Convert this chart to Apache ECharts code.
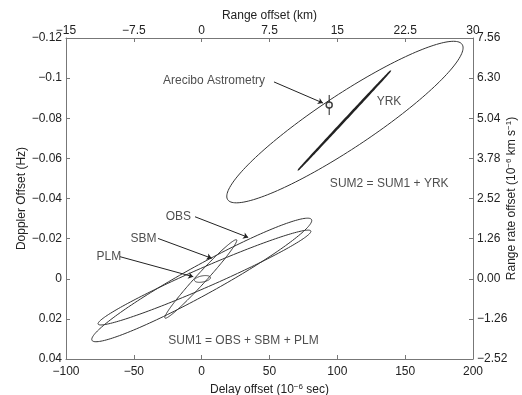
<!DOCTYPE html>
<html>
<head>
<meta charset="utf-8">
<script src="https://cdn.jsdelivr.net/npm/echarts@6/dist/echarts.min.js"></script>
<style>
  html, body { margin: 0; padding: 0; background: #fff; }
  #chart { width: 522px; height: 395px; }
</style>
</head>
<body>
<div id="chart"></div>
<script>
// error ellipses: centre, semi-major vector, semi-minor vector (data units)
var ellipseNames = ['SUM2', 'YRK', 'SUM1', 'OBS', 'SBM', 'PLM'];
var ellipseCenters = [[105.6, -0.0781], [105.2, -0.0789], [0.07, 0.0006], [2.06, -0.0006], [-0.65, 0.0001], [0.6, 0.0001]];
var ellipseMajor = [[86.4, -0.0387], [33.75, -0.0245], [80.9, -0.0301], [78.4, -0.0232], [26.4, -0.0195], [5.9, -0.00075]];
var ellipseMinor = [[10.9, 0.0111], [0.3, 0.0002], [5.25, 0.0065], [2.9, 0.0045], [2.72, 0.0017], [0.44, 0.0015]];
var ellipseWidths = [1, 1.4, 1, 1, 1, 1];

// Arecibo astrometry point with doppler error bar
var arecibo = [94, -0.0866];
var areciboErr = 0.005;

// annotation labels and arrows
var labelTexts = ['Arecibo Astrometry', 'YRK', 'SUM2 = SUM1 + YRK', 'OBS', 'SBM', 'PLM', 'SUM1 = OBS + SBM + PLM'];
var labelPos = [[-28.5, -0.0987], [129, -0.0882], [94.5, -0.0476], [-26.5, -0.0308], [-52.5, -0.0200], [-77.5, -0.0110], [-24.6, 0.0311]];
var arrows = [
  [[53.3, -0.0981], [89.4, -0.0876]],
  [[-4.9, -0.0309], [34.3, -0.0206]],
  [[-32.2, -0.0201], [7.4, -0.0102]],
  [[-60.2, -0.0110], [-6.2, -0.0010]]
];

var font = 'Liberation Sans';
var ink = '#222';
var axisGrey = '#777';

function minus(s) { return s.replace('-', '\u2212'); }

var chart = echarts.init(document.getElementById('chart'));

var baseAxis = {
  type: 'value',
  splitLine: { show: false },
  axisLine: { show: true, onZero: false, lineStyle: { color: axisGrey, width: 1 } },
  axisTick: { show: true, inside: true, length: 4, lineStyle: { color: axisGrey } },
  axisLabel: { color: ink, fontFamily: font, fontSize: 12, margin: 4 },
  nameLocation: 'middle',
  nameMoveOverlap: false,
  nameTextStyle: {
    color: ink, fontFamily: font, fontSize: 12,
    rich: { sup: { fontSize: 8, verticalAlign: 'top', color: ink, fontFamily: font, padding: [0, 0, 6, 0] } }
  }
};

function axis(extra) {
  return echarts.util.merge(echarts.util.clone(baseAxis), extra, true);
}

chart.setOption({
  animation: false,
  grid: { left: 66, right: 49, top: 38, bottom: 36, containLabel: false, outerBoundsMode: 'none' },
  xAxis: [
    axis({
      position: 'bottom', min: -100, max: 200, interval: 50,
      name: 'Delay offset (10{sup|\u22126} sec)', nameGap: 24,
      axisLabel: { margin: 7, formatter: function (v) { return minus(String(v)); } }
    }),
    axis({
      position: 'top', min: -15, max: 30, interval: 7.5,
      name: 'Range offset (km)', nameGap: 16,
      axisLabel: { margin: 1, formatter: function (v) { return minus(String(v)); } }
    })
  ],
  yAxis: [
    axis({
      position: 'left', min: -0.12, max: 0.04, interval: 0.02, inverse: true,
      name: 'Doppler Offset (Hz)', nameGap: 38, nameRotate: 90,
      axisLabel: { formatter: function (v) {
        if (Math.abs(v) < 1e-9) return '0';
        return minus(String(+v.toFixed(2)));
      } }
    }),
    axis({
      position: 'right', min: -2.52, max: 7.56, interval: 1.26,
      name: 'Range rate offset (10{sup|\u22126} km s{sup|\u22121})', nameGap: 32, nameRotate: 90,
      axisLabel: { formatter: function (v) {
        if (Math.abs(v) < 1e-9) return '0.00';
        return minus(v.toFixed(2));
      } }
    })
  ],
  series: [
    {
      type: 'custom',
      xAxisIndex: 0, yAxisIndex: 0,
      data: ellipseNames.map(function (n, i) {
        return [ellipseCenters[i][0], ellipseCenters[i][1], i];
      }),
      encode: { x: 0, y: 1 },
      renderItem: function (params, api) {
        var i = api.value(2);
        var c = ellipseCenters[i], u = ellipseMajor[i], w = ellipseMinor[i];
        var pts = [];
        for (var k = 0; k < 180; k++) {
          var t = k / 180 * Math.PI * 2;
          var ct = Math.cos(t), st = Math.sin(t);
          pts.push(api.coord([c[0] + u[0] * ct + w[0] * st, c[1] + u[1] * ct + w[1] * st]));
        }
        return {
          type: 'polygon',
          shape: { points: pts },
          style: { fill: 'none', stroke: i === 1 ? '#222' : '#333', lineWidth: ellipseWidths[i] }
        };
      },
      silent: true
    },
    {
      type: 'custom',
      xAxisIndex: 0, yAxisIndex: 0,
      data: [[arecibo[0], arecibo[1]]],
      renderItem: function (params, api) {
        var a = api.coord([api.value(0), api.value(1) - areciboErr]);
        var b = api.coord([api.value(0), api.value(1) + areciboErr]);
        return {
          type: 'line',
          shape: { x1: a[0], y1: a[1], x2: b[0], y2: b[1] },
          style: { stroke: '#222', lineWidth: 1 }
        };
      },
      silent: true
    },
    {
      type: 'scatter',
      xAxisIndex: 0, yAxisIndex: 0,
      data: [arecibo],
      symbol: 'circle', symbolSize: 6,
      itemStyle: { color: '#fff', borderColor: '#111', borderWidth: 1.5 },
      silent: true
    },
    {
      type: 'lines',
      coordinateSystem: 'cartesian2d',
      xAxisIndex: 0, yAxisIndex: 0,
      data: arrows.map(function (a) { return { coords: a }; }),
      symbol: ['none', 'arrow'],
      symbolSize: 5,
      lineStyle: { color: '#222', width: 1, opacity: 1 },
      silent: true
    },
    {
      type: 'scatter',
      xAxisIndex: 0, yAxisIndex: 0,
      data: labelPos.map(function (p, i) { return { value: p, name: labelTexts[i] }; }),
      symbolSize: 0,
      label: {
        show: true, position: 'right', distance: 0,
        formatter: '{b}', color: ink, fontFamily: font, fontSize: 12
      },
      silent: true
    }
  ]
});
</script>
</body>
</html>
